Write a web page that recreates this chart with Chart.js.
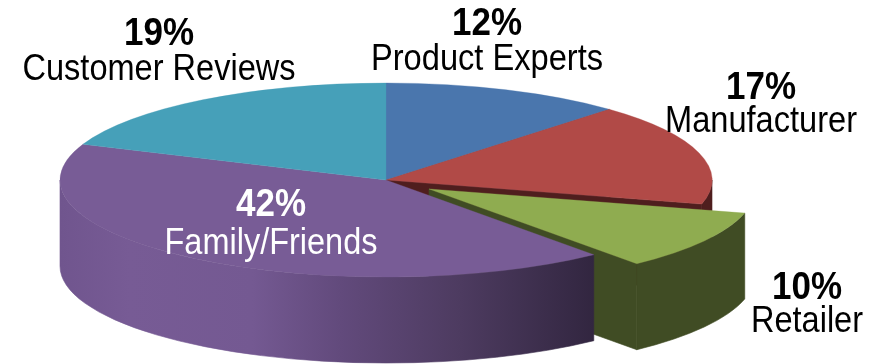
<!DOCTYPE html>
<html>
<head>
<meta charset="utf-8">
<title>Sources of advice</title>
<script src="https://cdn.jsdelivr.net/npm/chart.js@4/dist/chart.umd.js"></script>
<style>
  html, body { margin: 0; padding: 0; background: #fff; overflow: hidden; }
  canvas { display: block; }
</style>
</head>
<body>
<canvas id="pie" width="873" height="364"></canvas>
<script>
const sources = ['Product Experts', 'Manufacturer', 'Retailer', 'Family/Friends', 'Customer Reviews']
const shares = [12, 17, 10, 42, 19]

const faceColors = ['#4a76ad', '#b14a47', '#8fac50', '#785c96', '#46a0b9']
const wallColors = ['#2f4c72', '#4f1e1e', '#404c24', null, '#2d6b7c']
const purpleWallStops = [[0, '#70558e'], [0.13, '#775b95'], [0.36, '#745992'], [0.525, '#624a7c'], [0.75, '#4d3b60'], [1, '#322640']]

// label anchors, in the same order as the slices: centre x, percent baseline, name baseline, name width
const labelSpots = [
  { x: 487, top: 35, bottom: 70, width: 232, pctWidth: 70, color: '#000' },
  { x: 761, top: 99, bottom: 132, width: 192, pctWidth: 70, color: '#000' },
  { x: 807, top: 299, bottom: 332, width: 112, pctWidth: 70, color: '#000' },
  { x: 271, top: 216, bottom: 254, width: 213, pctWidth: 70, color: '#fff' },
  { x: 159, top: 45, bottom: 80, width: 273, pctWidth: 70, color: '#000' }
]

const RADIUS = 326
const SQUASH = 97 / 326   // tilt of the disc
const DEPTH = 86
const PULLED = 2          // Retailer slice sits away from the disc
const PULL_X = 43
const PULL_Y = 9

const tiltedPie = {
  id: 'tiltedPie',
  afterDatasetsUpdate(chart) {
    const arc = chart.getDatasetMeta(0).data[PULLED]
    arc.x += PULL_X
    arc.y += PULL_Y / SQUASH
  },
  beforeDatasetsDraw(chart) {
    const { ctx, chartArea } = chart
    const pivot = (chartArea.top + chartArea.bottom) / 2
    const arcs = chart.getDatasetMeta(0).data

    // side walls go down first, the slices are painted on top of them
    arcs.forEach((arc, i) => {
      const cy = pivot + (arc.y - pivot) * SQUASH
      const ry = RADIUS * SQUASH
      let fill = wallColors[i]
      if (!fill) {
        fill = ctx.createLinearGradient(arc.x - RADIUS, 0, arc.x + RADIUS * 0.637, 0)
        purpleWallStops.forEach(s => fill.addColorStop(s[0], s[1]))
      }
      ctx.fillStyle = fill
      ctx.strokeStyle = fill
      ctx.lineWidth = 0.6

      // cut face along the closing edge of the slice
      const end = arc.endAngle
      if (Math.cos(end) > 0) {
        const ex = arc.x + RADIUS * Math.cos(end)
        const ey = cy + ry * Math.sin(end)
        ctx.beginPath()
        ctx.moveTo(arc.x, cy)
        ctx.lineTo(ex, ey)
        ctx.lineTo(ex, ey + DEPTH)
        ctx.lineTo(arc.x, cy + DEPTH)
        ctx.closePath()
        ctx.fill()
        ctx.stroke()
      }

      // curved outer wall, only the front half of the rim shows
      const from = Math.max(arc.startAngle, 0)
      const to = Math.min(arc.endAngle, Math.PI)
      if (to > from) {
        ctx.beginPath()
        ctx.ellipse(arc.x, cy, RADIUS, ry, 0, from, to)
        ctx.ellipse(arc.x, cy + DEPTH, RADIUS, ry, 0, to, from, true)
        ctx.closePath()
        ctx.fill()
        ctx.stroke()
      }
    })

    ctx.save()
    ctx.translate(0, pivot)
    ctx.scale(1, SQUASH)
    ctx.translate(0, -pivot)
  },
  afterDatasetsDraw(chart) {
    chart.ctx.restore()
  },
  afterDraw(chart) {
    const ctx = chart.ctx
    ctx.save()
    ctx.textAlign = 'center'
    ctx.textBaseline = 'alphabetic'
    sources.forEach((name, i) => {
      const spot = labelSpots[i]
      ctx.fillStyle = spot.color
      ctx.font = 'bold 39px "Liberation Sans", Arial, sans-serif'
      ctx.fillText(shares[i] + '%', spot.x, spot.top, spot.pctWidth)
      ctx.font = '36px "Liberation Sans", Arial, sans-serif'
      ctx.fillText(name, spot.x, spot.bottom, spot.width)
    })
    ctx.restore()
  }
}

new Chart(document.getElementById('pie'), {
  type: 'pie',
  data: {
    labels: sources,
    datasets: [{
      data: shares,
      backgroundColor: faceColors,
      borderColor: faceColors,
      borderWidth: 0.5,
      clip: false
    }]
  },
  options: {
    responsive: false,
    animation: false,
    events: [],
    radius: RADIUS,
    layout: { padding: { right: 101, bottom: 4 } },
    plugins: { legend: { display: false }, tooltip: { enabled: false } }
  },
  plugins: [tiltedPie]
})
</script>
</body>
</html>
